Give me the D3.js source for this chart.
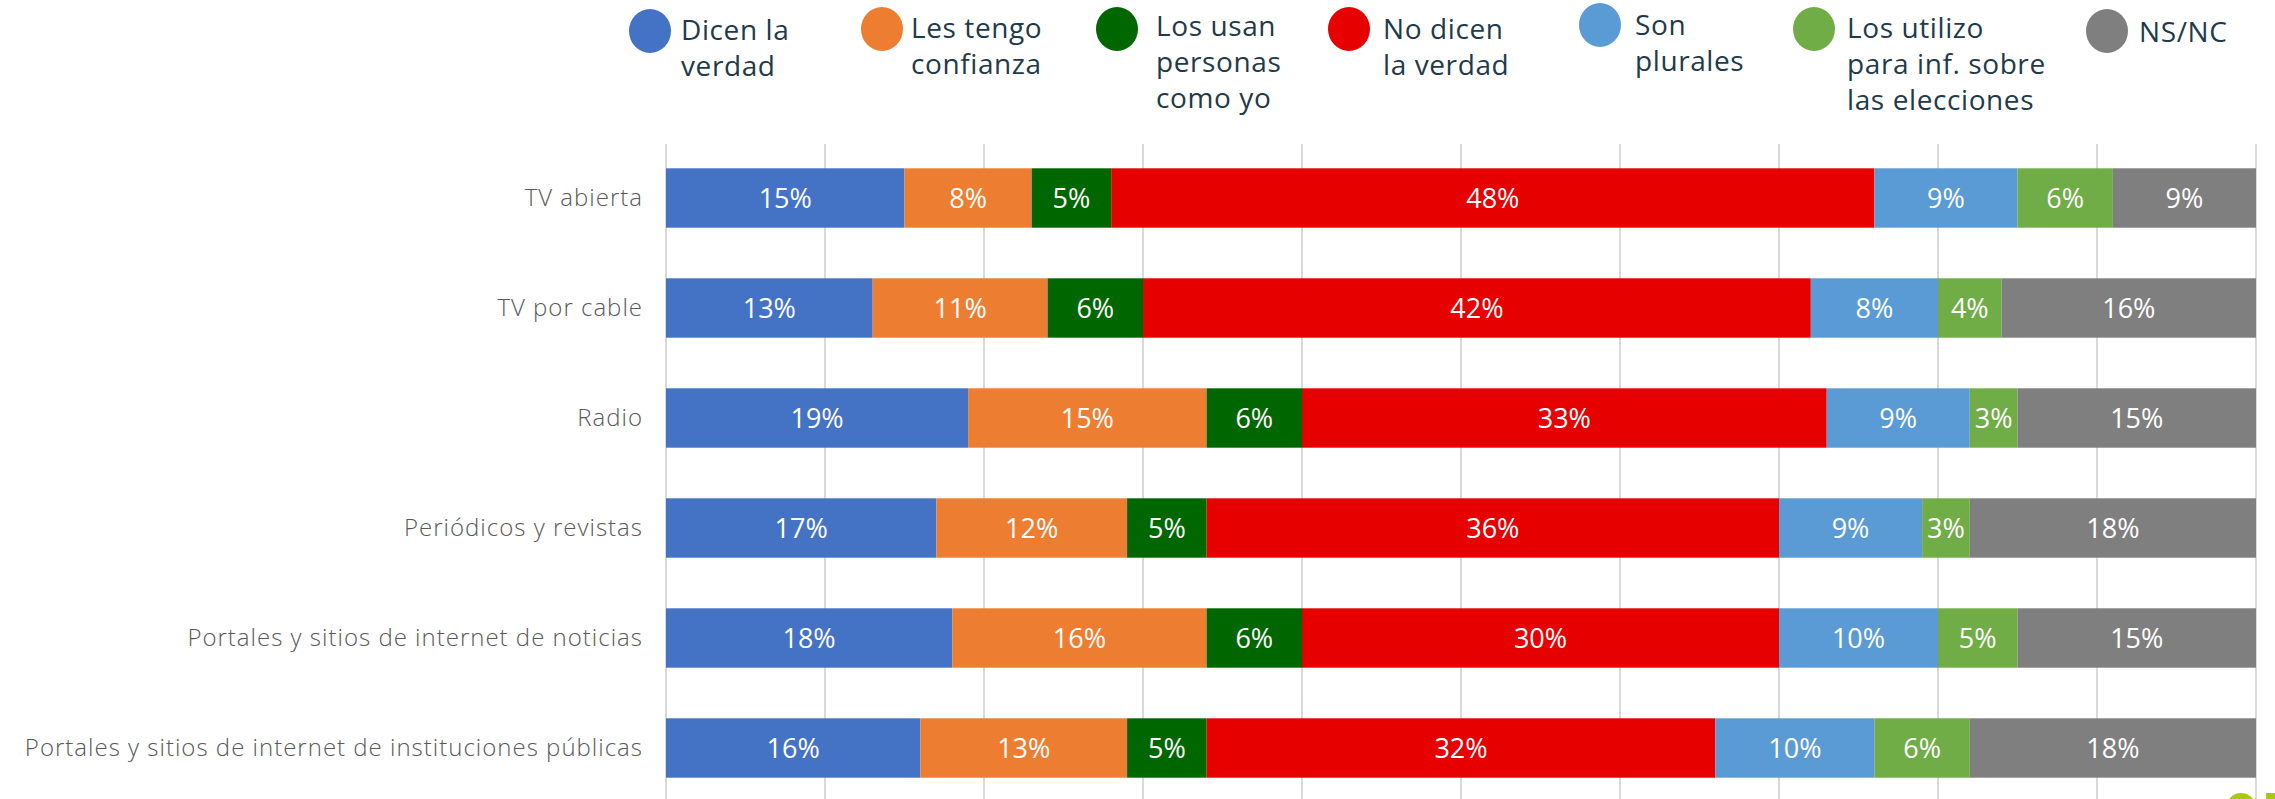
<!DOCTYPE html>
<html>
<head>
<meta charset="utf-8">
<script src="https://cdn.jsdelivr.net/npm/d3@7"></script>
<style>
  html, body { margin: 0; padding: 0; background: #fff; }
  svg { display: block; }
</style>
</head>
<body>
<svg id="chart" width="2275" height="799"></svg>
<script>
const categories = [
  "TV abierta",
  "TV por cable",
  "Radio",
  "Periódicos y revistas",
  "Portales y sitios de internet de noticias",
  "Portales y sitios de internet de instituciones públicas"
];
const seriesNames = [
  "Dicen la verdad",
  "Les tengo confianza",
  "Los usan personas como yo",
  "No dicen la verdad",
  "Son plurales",
  "Los utilizo para inf. sobre las elecciones",
  "NS/NC"
];
const legendLines = [
  ["Dicen la", "verdad"],
  ["Les tengo", "confianza"],
  ["Los usan", "personas", "como yo"],
  ["No dicen", "la verdad"],
  ["Son", "plurales"],
  ["Los utilizo", "para inf. sobre", "las elecciones"],
  ["NS/NC"]
];
const dicenVerdad     = [15, 13, 19, 17, 18, 16];
const confianza       = [8, 11, 15, 12, 16, 13];
const personasComoYo  = [5, 6, 6, 5, 6, 5];
const noDicenVerdad   = [48, 42, 33, 36, 30, 32];
const plurales        = [9, 8, 9, 9, 10, 10];
const elecciones      = [6, 4, 3, 3, 5, 6];
const nsnc            = [9, 16, 15, 18, 15, 18];
const xTicks = [0, 10, 20, 30, 40, 50, 60, 70, 80, 90, 100];

const colors = ["#4472C4", "#ED7D31", "#006600", "#E60000", "#5B9BD5", "#70AD47", "#7F7F7F"];
const seriesValues = [dicenVerdad, confianza, personasComoYo, noDicenVerdad, plurales, elecciones, nsnc];

const svg = d3.select("#chart");

const x = d3.scaleLinear().domain([0, 100]).range([666, 2256]);
const y = d3.scaleBand().domain(categories).range([143, 803]).paddingInner(0.46).paddingOuter(0.23);

// gridlines
svg.append("g").selectAll("line").data(xTicks).join("line")
  .attr("x1", d => x(d)).attr("x2", d => x(d))
  .attr("y1", 144).attr("y2", 799)
  .attr("stroke", "#D9D9D9").attr("stroke-width", 2);

// stacked data
const rows = categories.map((c, i) => {
  const o = { cat: c };
  seriesNames.forEach((s, j) => o[s] = seriesValues[j][i]);
  return o;
});
const stack = d3.stack().keys(seriesNames)(rows);

const layers = svg.append("g").selectAll("g").data(stack).join("g")
  .attr("fill", (d, i) => colors[i]);

layers.selectAll("rect").data(d => d).join("rect")
  .attr("x", d => x(d[0]))
  .attr("width", d => x(d[1]) - x(d[0]))
  .attr("y", d => y(d.data.cat))
  .attr("height", y.bandwidth());

// value labels
const labelG = svg.append("g");
stack.forEach(layer => {
  layer.forEach(d => {
    labelG.append("text")
      .attr("x", (x(d[0]) + x(d[1])) / 2)
      .attr("y", y(d.data.cat) + y.bandwidth() / 2)
      .attr("dy", "0.36em")
      .attr("text-anchor", "middle")
      .attr("fill", "#FFFFFF")
      .style("font-family", "'Open Sans', sans-serif")
      .style("font-size", "27px")
      .text((d[1] - d[0]) + "%");
  });
});

// category axis labels
const yAxis = d3.axisLeft(y).tickSize(0).tickPadding(0);
const yg = svg.append("g").attr("transform", "translate(643,0)").call(yAxis);
yg.select(".domain").remove();
yg.selectAll("text")
  .attr("fill", "#595959")
  .style("font-family", "'Open Sans', sans-serif")
  .style("font-weight", "300")
  .style("font-size", "24px")
  .style("letter-spacing", "1px");

// legend
const legendPos = [
  { cx: 650, cy: 31, tx: 681, ty: 30 },
  { cx: 882, cy: 29, tx: 911, ty: 28 },
  { cx: 1117, cy: 29, tx: 1156, ty: 26 },
  { cx: 1349, cy: 29, tx: 1383, ty: 29 },
  { cx: 1600, cy: 25, tx: 1635, ty: 25 },
  { cx: 1814, cy: 29, tx: 1847, ty: 28 },
  { cx: 2107, cy: 31, tx: 2139, ty: 32 }
];
const lg = svg.append("g");
seriesNames.forEach((s, i) => {
  const p = legendPos[i];
  lg.append("ellipse").attr("cx", p.cx).attr("cy", p.cy).attr("rx", 21).attr("ry", 22).attr("fill", colors[i]);
  const t = lg.append("text")
    .attr("fill", "#1F3A4A")
    .style("font-family", "'Open Sans', sans-serif")
    .style("font-size", "28px")
    .style("letter-spacing", "0.6px");
  legendLines[i].forEach((ln, k) => {
    t.append("tspan").attr("x", p.tx).attr("y", p.ty + k * 36).attr("dy", "0.36em").text(ln);
  });
});

// partial logo fragment in bottom-right corner
svg.append("circle").attr("cx", 2241).attr("cy", 808).attr("r", 11)
  .attr("fill", "none").attr("stroke", "#A9C80F").attr("stroke-width", 8);
svg.append("rect").attr("x", 2266).attr("y", 793).attr("width", 9).attr("height", 6).attr("fill", "#A9C80F");
</script>
</body>
</html>
